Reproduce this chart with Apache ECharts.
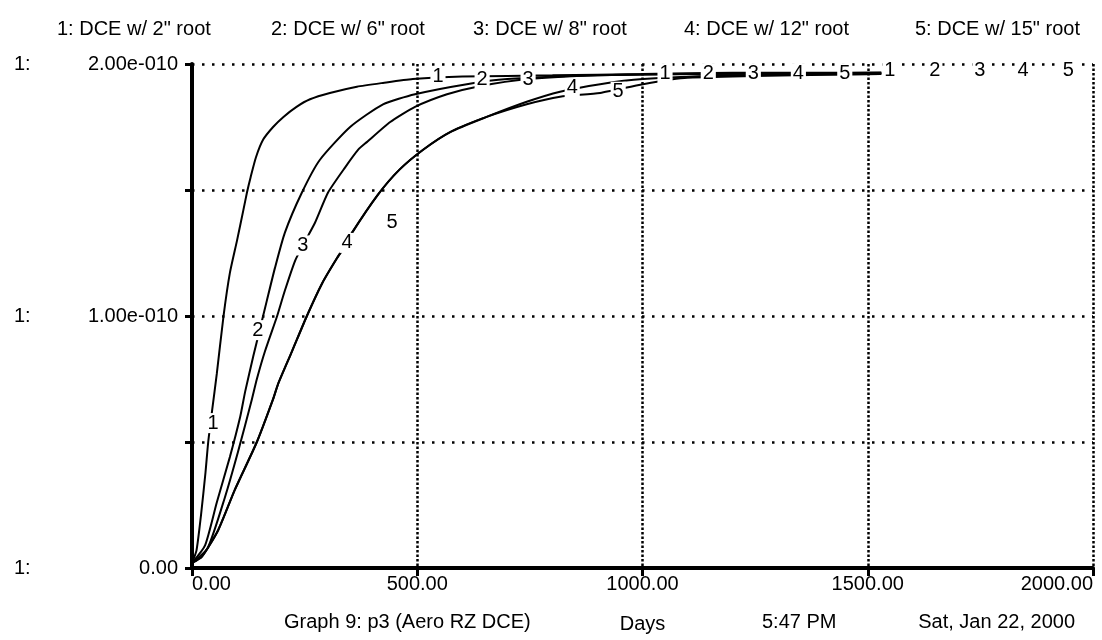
<!DOCTYPE html>
<html>
<head>
<meta charset="utf-8">
<script src="https://cdn.jsdelivr.net/npm/echarts@6/dist/echarts.min.js"></script>
<style>
html,body{margin:0;padding:0;background:#fff;}
#c{width:1102px;height:640px;}
</style>
</head>
<body>
<div id="c"></div>
<script>
// Values in units of 1e-10
var seriesNames = ['1: DCE w/ 2" root', '2: DCE w/ 6" root', '3: DCE w/ 8" root', '4: DCE w/ 12" root', '5: DCE w/ 15" root'];
var seriesMarks = ['1', '2', '3', '4', '5'];

var days1 = [0, 10, 20, 30, 36, 45, 55, 70, 84, 100, 114, 122, 130, 142, 158, 180, 203, 232, 262, 306, 366, 424, 490, 600, 800, 1000, 1200, 1530];
var vals1 = [0.02, 0.07, 0.21, 0.38, 0.50, 0.63, 0.77, 1.00, 1.17, 1.30, 1.42, 1.49, 1.55, 1.63, 1.70, 1.75, 1.79, 1.83, 1.86, 1.885, 1.91, 1.925, 1.94, 1.95, 1.955, 1.96, 1.965, 1.965];

var days2 = [0, 29, 55, 84, 107, 118, 136, 151, 166, 184, 206, 244, 284, 351, 424, 495, 610, 700, 900, 1100, 1530];
var vals2 = [0.02, 0.09, 0.26, 0.44, 0.60, 0.70, 0.84, 0.95, 1.06, 1.19, 1.33, 1.49, 1.62, 1.75, 1.84, 1.88, 1.92, 1.94, 1.955, 1.96, 1.965];

var days3 = [0, 35, 73, 102, 133, 144, 162, 189, 206, 229, 246, 273, 302, 340, 369, 388, 440, 495, 566, 633, 746, 900, 1100, 1530];
var vals3 = [0.02, 0.08, 0.28, 0.46, 0.67, 0.75, 0.86, 1.00, 1.10, 1.22, 1.28, 1.37, 1.49, 1.59, 1.66, 1.69, 1.77, 1.83, 1.88, 1.91, 1.94, 1.955, 1.96, 1.965];

var days4 = [0, 22, 58, 95, 144, 180, 191, 222, 255, 289, 322, 344, 355, 412, 460, 513, 573, 654, 743, 817, 906, 1001, 1200, 1530];
var vals4 = [0.02, 0.045, 0.15, 0.31, 0.50, 0.67, 0.73, 0.86, 1.00, 1.13, 1.23, 1.29, 1.33, 1.48, 1.58, 1.66, 1.73, 1.79, 1.85, 1.89, 1.92, 1.94, 1.955, 1.96];

var days5 = [0, 22, 58, 95, 144, 180, 191, 222, 255, 289, 322, 344, 355, 412, 460, 513, 573, 654, 743, 817, 906, 1001, 1100, 1530];
var vals5 = [0.02, 0.045, 0.15, 0.31, 0.50, 0.67, 0.73, 0.86, 1.00, 1.13, 1.23, 1.29, 1.33, 1.48, 1.58, 1.66, 1.73, 1.79, 1.84, 1.87, 1.885, 1.92, 1.945, 1.96];

// curve number markers placed along the curves
var markDays1 = [47, 546, 1050, 1549];  var markVals1 = [0.575, 1.95, 1.964, 1.975];
var markDays2 = [146, 644, 1146, 1649]; var markVals2 = [0.944, 1.94, 1.964, 1.975];
var markDays3 = [246, 746, 1246, 1749]; var markVals3 = [1.28, 1.94, 1.964, 1.975];
var markDays4 = [344, 844, 1346, 1845]; var markVals4 = [1.29, 1.905, 1.964, 1.975];
var markDays5 = [444, 946, 1449, 1945]; var markVals5 = [1.37, 1.89, 1.964, 1.975];

var xTicks = [0, 500, 1000, 1500, 2000];
var yLabelTicks = [0, 1, 2];

function zip(a, b) { return a.map(function (d, i) { return [d, b[i]]; }); }

var allDays = [days1, days2, days3, days4, days5];
var allVals = [vals1, vals2, vals3, vals4, vals5];
var allMarkDays = [markDays1, markDays2, markDays3, markDays4, markDays5];
var allMarkVals = [markVals1, markVals2, markVals3, markVals4, markVals5];

var FONT = '"Liberation Sans", Arial, sans-serif';
var FS = 20;
var legendLefts = [47, 261, 463, 674, 905];

var series = [];
for (var i = 0; i < 5; i++) {
  series.push({
    name: seriesNames[i],
    type: 'line',
    data: zip(allDays[i], allVals[i]),
    showSymbol: false,
    symbol: 'none',
    smooth: 0.2,
    lineStyle: { color: '#000', width: 2 },
    itemStyle: { color: '#000' },
    z: 3,
    animation: false
  });
}
for (var j = 0; j < 5; j++) {
  (function (k) {
    series.push({
      name: 'mark' + k,
      type: 'scatter',
      data: zip(allMarkDays[k], allMarkVals[k]),
      symbolSize: 1,
      itemStyle: { color: 'transparent', opacity: 1 },
      label: {
        show: true,
        position: 'inside',
        formatter: seriesMarks[k],
        color: '#000',
        opacity: 1,
        fontFamily: FONT,
        fontSize: FS,
        backgroundColor: '#fff',
        padding: [0, 2, 0, 2]
      },
      z: 5,
      silent: true,
      animation: false
    });
  })(j);
}

var legends = seriesNames.map(function (n, i) {
  return {
    data: [n],
    left: legendLefts[i],
    top: 14,
    icon: 'none',
    itemWidth: 0,
    itemHeight: 0,
    selectedMode: false,
    textStyle: { fontFamily: FONT, fontSize: FS, color: '#000' }
  };
});

var titleStyle = { fontFamily: FONT, fontSize: FS, fontWeight: 'normal', color: '#000' };

var chart = echarts.init(document.getElementById('c'), null, { renderer: 'canvas' });
chart.setOption({
  backgroundColor: '#fff',
  animation: false,
  textStyle: { fontFamily: FONT, color: '#000' },
  title: [
    { text: 'Graph 9: p3 (Aero RZ DCE)', left: 284, top: 612, padding: 0, textStyle: titleStyle },
    { text: '5:47 PM', left: 762, top: 612, padding: 0, textStyle: titleStyle },
    { text: 'Sat, Jan 22, 2000', right: 27, top: 612, padding: 0, textStyle: titleStyle }
  ],
  legend: legends,
  grid: { left: 192, right: 9, top: 64, bottom: 72, containLabel: false, outerBoundsMode: 'none' },
  xAxis: {
    type: 'value',
    min: 0, max: 2000, interval: 500,
    name: 'Days',
    nameLocation: 'middle',
    nameGap: 46,
    nameTextStyle: { fontFamily: FONT, fontSize: FS, color: '#000' },
    axisLine: { show: true, lineStyle: { color: '#000', width: 4 } },
    axisTick: { show: true, length: 8, lineStyle: { color: '#000', width: 3 } },
    axisLabel: {
      fontFamily: FONT, fontSize: FS, color: '#000', margin: 6,
      alignMinLabel: 'left', alignMaxLabel: 'right',
      formatter: function (v) { return xTicks.indexOf(v) >= 0 ? v.toFixed(2) : ''; }
    },
    splitLine: { show: true, lineStyle: { color: '#000', width: 2.5, type: [2.5, 2] } }
  },
  yAxis: [
    {
      type: 'value',
      min: 0, max: 2, interval: 0.5,
      axisLine: { show: true, lineStyle: { color: '#000', width: 4 } },
      axisTick: { show: true, length: 7, lineStyle: { color: '#000', width: 3 } },
      axisLabel: {
        fontFamily: FONT, fontSize: FS, color: '#000', margin: 14,
        formatter: function (v) {
          if (yLabelTicks.indexOf(v) < 0) return '';
          return v === 0 ? '0.00' : v.toFixed(2) + 'e-010';
        }
      },
      splitLine: { show: true, lineStyle: { color: '#000', width: 2.5, type: [2.5, 7.5] } }
    },
    {
      type: 'value',
      position: 'left',
      min: 0, max: 2, interval: 0.5,
      offset: 178,
      axisLine: { show: false },
      axisTick: { show: false },
      splitLine: { show: false },
      axisLabel: {
        fontFamily: FONT, fontSize: FS, color: '#000', margin: 0, align: 'left',
        formatter: function (v) { return yLabelTicks.indexOf(v) >= 0 ? '1:' : ''; }
      }
    }
  ],
  series: series
});
</script>
</body>
</html>
